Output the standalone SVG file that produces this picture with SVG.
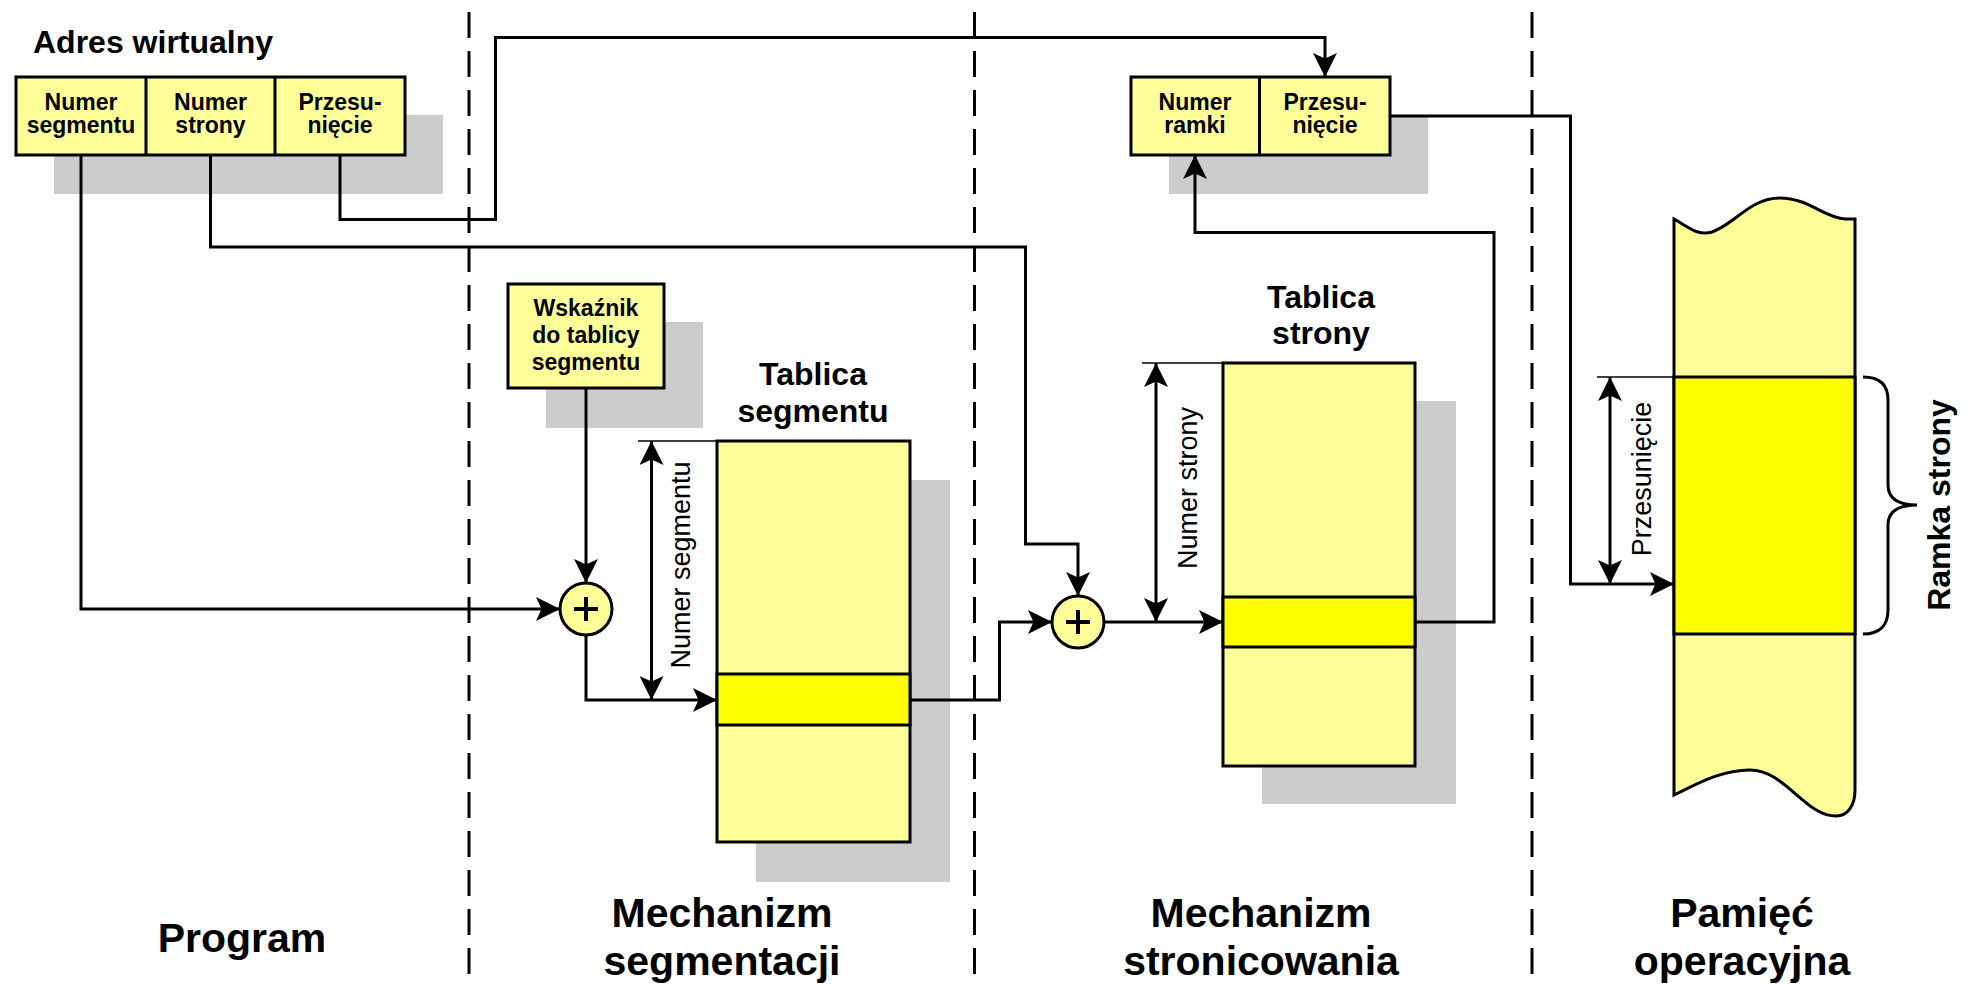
<svg xmlns="http://www.w3.org/2000/svg" width="1968" height="986" viewBox="0 0 1968 986">
<style>
text{font-family:"Liberation Sans",Arial,sans-serif;fill:#000}
.b{font-weight:bold}
.sm{font-size:23px;font-weight:bold;text-anchor:middle}
.ttl{font-size:32px;font-weight:bold;text-anchor:middle}
.lbl{font-size:41px;font-weight:bold;text-anchor:middle}
.dim{font-size:27px;text-anchor:middle}
.box{fill:#FFFF99;stroke:#000;stroke-width:3}
.hi{fill:#FFFF00;stroke:#000;stroke-width:3}
.sh{fill:#CCCCCC}
.ln{fill:none;stroke:#000;stroke-width:3}
.thin{fill:none;stroke:#000;stroke-width:1.5}
.dash{fill:none;stroke:#000;stroke-width:3;stroke-dasharray:26 13}
</style>
<defs>
<marker id="ar" markerUnits="userSpaceOnUse" markerWidth="24" markerHeight="24" viewBox="0 -11 22 22" refX="22" refY="0" orient="auto">
<path d="M0,-11 L22,0 L0,11 L5,0 Z" fill="#000"/>
</marker>
<marker id="ars" markerUnits="userSpaceOnUse" markerWidth="24" markerHeight="24" viewBox="0 -11 22 22" refX="22" refY="0" orient="auto-start-reverse">
<path d="M0,-11 L22,0 L0,11 L5,0 Z" fill="#000"/>
</marker>
</defs>

<g id="separators">
<line class="dash" x1="469" y1="12" x2="469" y2="986"/>
<line class="dash" x1="974.5" y1="12" x2="974.5" y2="986"/>
<line class="dash" x1="1532" y1="12" x2="1532" y2="986"/>
</g>

<g id="virtual-address">
<text class="b" x="33" y="53" font-size="32">Adres wirtualny</text>
<rect class="sh" x="54" y="115" width="389" height="79"/>
<rect class="box" x="16" y="77" width="389" height="78"/>
<line class="ln" x1="146" y1="77" x2="146" y2="155"/>
<line class="ln" x1="275" y1="77" x2="275" y2="155"/>
<text class="sm" x="81" y="110">Numer</text>
<text class="sm" x="81" y="133">segmentu</text>
<text class="sm" x="210.5" y="110">Numer</text>
<text class="sm" x="210.5" y="133">strony</text>
<text class="sm" x="340" y="110">Przesu-</text>
<text class="sm" x="340" y="133">nięcie</text>
</g>

<g id="physical-address">
<rect class="sh" x="1169" y="115" width="259" height="79"/>
<rect class="box" x="1131" y="77" width="259" height="78"/>
<line class="ln" x1="1259.5" y1="77" x2="1259.5" y2="155"/>
<text class="sm" x="1195" y="110">Numer</text>
<text class="sm" x="1195" y="133">ramki</text>
<text class="sm" x="1325" y="110">Przesu-</text>
<text class="sm" x="1325" y="133">nięcie</text>
</g>

<g id="segment-table-pointer">
<rect class="sh" x="546" y="322" width="157" height="106"/>
<rect class="box" x="508" y="284" width="156" height="104"/>
<text class="sm" x="586" y="316">Wskaźnik</text>
<text class="sm" x="586" y="343">do tablicy</text>
<text class="sm" x="586" y="370">segmentu</text>
</g>

<g id="adder-1">
<circle class="box" cx="586" cy="609" r="26"/>
<path d="M574,609 H598 M586,597 V621" stroke="#000" stroke-width="4" fill="none"/>
</g>

<g id="segment-table">
<text class="ttl" x="813" y="385">Tablica</text>
<text class="ttl" x="813" y="422">segmentu</text>
<rect class="sh" x="756" y="480" width="194" height="402"/>
<rect class="box" x="717" y="441" width="193" height="401"/>
<rect class="hi" x="717" y="674" width="193" height="51"/>
</g>

<g id="adder-2">
<circle class="box" cx="1078" cy="622" r="26"/>
<path d="M1066,622 H1090 M1078,610 V634" stroke="#000" stroke-width="4" fill="none"/>
</g>

<g id="page-table">
<text class="ttl" x="1321" y="308">Tablica</text>
<text class="ttl" x="1321" y="344">strony</text>
<rect class="sh" x="1262" y="401" width="194" height="403"/>
<rect class="box" x="1223" y="363" width="192" height="403"/>
<rect class="hi" x="1223" y="597" width="192" height="50"/>
</g>

<g id="memory">
<path class="box" d="M1674,219 C1690,228 1698,236 1712,232 C1735,224 1750,198 1780,198 C1808,198 1825,218 1845,219 L1855,219 L1855,790 C1855,805 1848,816 1836,816 C1805,816 1785,770 1750,770 C1720,770 1695,785 1674,795 Z"/>
<rect class="hi" x="1674" y="377" width="181" height="257"/>
<path class="ln" d="M1863,377 C1880,377 1888,385 1888,400 L1888,485 C1888,498 1898,505 1917,505 C1898,505 1888,512 1888,525 L1888,610 C1888,625 1880,634 1863,634"/>
<text class="b" font-size="32" text-anchor="middle" transform="translate(1950,505) rotate(-90)">Ramka strony</text>
</g>

<g id="dimensions">
<line class="thin" x1="638" y1="441" x2="717" y2="441"/>
<line class="ln" x1="651.5" y1="441" x2="651.5" y2="700" marker-start="url(#ars)" marker-end="url(#ar)"/>
<text class="dim" transform="translate(690,565) rotate(-90)">Numer segmentu</text>
<line class="thin" x1="1142" y1="363" x2="1223" y2="363"/>
<line class="ln" x1="1156" y1="363" x2="1156" y2="622" marker-start="url(#ars)" marker-end="url(#ar)"/>
<text class="dim" transform="translate(1197,488) rotate(-90)">Numer strony</text>
<line class="thin" x1="1597" y1="377" x2="1674" y2="377"/>
<line class="ln" x1="1610" y1="377" x2="1610" y2="584" marker-start="url(#ars)" marker-end="url(#ar)"/>
<text class="dim" transform="translate(1651,479) rotate(-90)">Przesunięcie</text>
</g>

<g id="connectors">
<path class="ln" d="M81,155 V609 H560" marker-end="url(#ar)"/>
<path class="ln" d="M210.5,155 V247 H1025.5 V544 H1078 V596" marker-end="url(#ar)"/>
<path class="ln" d="M340,155 V219.5 H495.5 V37.5 H1325 V77" marker-end="url(#ar)"/>
<path class="ln" d="M586,388 V583" marker-end="url(#ar)"/>
<path class="ln" d="M586,635 V700 H717" marker-end="url(#ar)"/>
<path class="ln" d="M910,700 H999.5 V622 H1052" marker-end="url(#ar)"/>
<path class="ln" d="M1104,622 H1223" marker-end="url(#ar)"/>
<path class="ln" d="M1415,622 H1494 V232.5 H1195 V155" marker-end="url(#ar)"/>
<path class="ln" d="M1390,116 H1570.5 V584 H1674" marker-end="url(#ar)"/>
</g>

<g id="section-labels">
<text class="lbl" x="242" y="952">Program</text>
<text class="lbl" x="722" y="927">Mechanizm</text>
<text class="lbl" x="722" y="975">segmentacji</text>
<text class="lbl" x="1261" y="927">Mechanizm</text>
<text class="lbl" x="1261" y="975">stronicowania</text>
<text class="lbl" x="1742" y="927">Pamięć</text>
<text class="lbl" x="1742" y="975">operacyjna</text>
</g>
</svg>
